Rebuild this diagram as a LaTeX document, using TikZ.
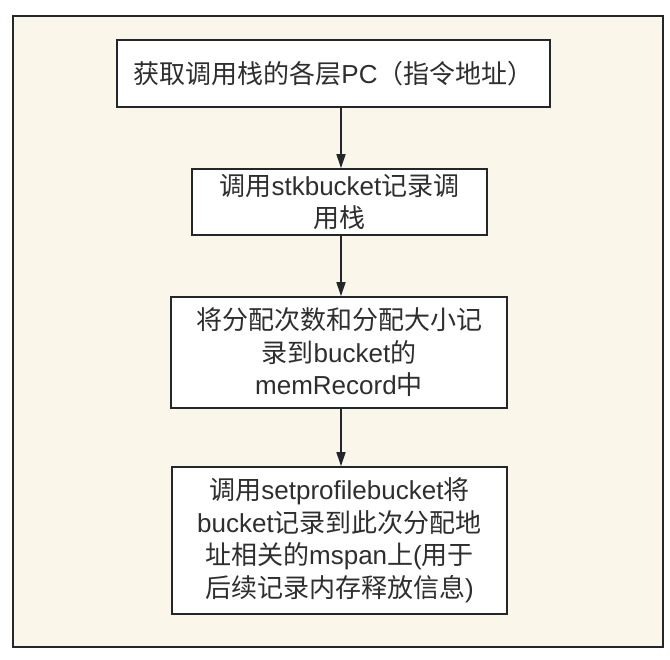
\documentclass[tikz,border=0pt]{standalone}
\usepackage{fontspec}
\setmainfont{Noto Sans CJK SC}
\newfontfamily\lat{Liberation Sans}
\usepackage{xcolor}
\usetikzlibrary{arrows.meta}
\definecolor{framebg}{HTML}{FAF7EA}
\definecolor{lineclr}{HTML}{23262B}
\definecolor{textclr}{HTML}{2E2E2E}

\begin{document}
\begin{tikzpicture}[x=1pt,y=-1pt,
  stepbox/.style={draw=lineclr, line width=1.6pt, fill=white, rectangle, align=center,
    font=\fontsize{26}{32.5}\selectfont, text=textclr, inner sep=0pt},
  flow/.style={draw=lineclr, line width=1.6pt, -{Triangle[width=9pt,length=14pt]}}]
\useasboundingbox (0,0) rectangle (670,660);
% Frame
\draw[draw=lineclr, line width=1.6pt, fill=framebg] (13,16) rectangle (663,647);

% Nodes
\node[stepbox, minimum width=433pt, minimum height=67pt] (pcs) at (333.5,73.5) {获取调用栈的各层{\lat PC}（指令地址）};
\node[stepbox, minimum width=295pt, minimum height=66pt] (stk) at (339.5,202) {调用{\lat stkbucket}记录调\\用栈};
\node[stepbox, minimum width=336pt, minimum height=111pt] (rec) at (339,352.5) {将分配次数和分配大小记\\录到{\lat bucket}的\\{\lat memRecord}中};
\node[stepbox, minimum width=335pt, minimum height=147pt] (span) at (339.5,540.5) {调用{\lat setprofilebucket}将\\{\lat bucket}记录到此次分配地\\址相关的{\lat mspan}上{\lat (}用于\\后续记录内存释放信息{\lat )}};

% Arrows
\draw[flow] (pcs.south -| 341,0) -- (stk.north -| 341,0);
\draw[flow] (stk.south -| 341,0) -- (rec.north -| 341,0);
\draw[flow] (rec.south -| 341,0) -- (span.north -| 341,0);
\end{tikzpicture}
\end{document}
